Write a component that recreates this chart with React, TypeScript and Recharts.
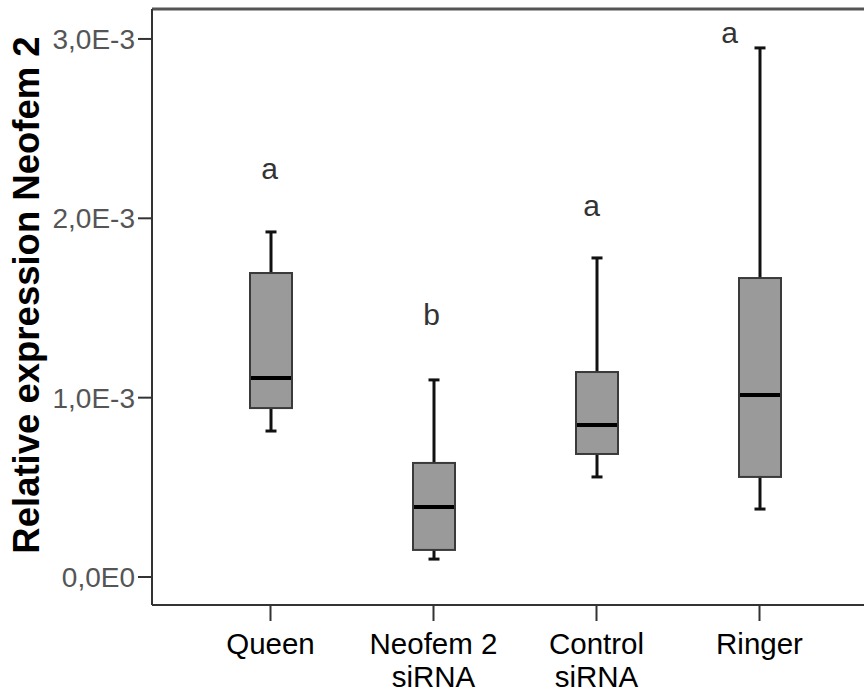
import React from 'react';
import { ComposedChart, Bar, XAxis, YAxis, Scatter, ReferenceLine } from 'recharts';

// ---- data ----
const categories = ['Queen', 'Neofem 2\nsiRNA', 'Control\nsiRNA', 'Ringer'];
const minValues = [0.000814, 0.0001, 0.000558, 0.000379];
const q1Values = [0.000942, 0.000151, 0.000686, 0.000558];
const medianValues = [0.00111, 0.00039, 0.000848, 0.001015];
const q3Values = [0.001695, 0.000636, 0.001143, 0.001667];
const maxValues = [0.001924, 0.001099, 0.001779, 0.00295];
const letters = ['a', 'b', 'a', 'a'];
const letterValues = [0.002219, 0.001405, 0.002013, 0.002978];
const yTicks = [0, 0.001, 0.002, 0.003];
const yTickLabels = ['0,0E0', '1,0E-3', '2,0E-3', '3,0E-3'];
const yTitle = 'Relative expression Neofem 2';

// ---- layout / style ----
const yDomain = [-0.000156, 0.003167];
const letterDx = [-1, -2, -5, -30];
const FONT = '"Liberation Sans", Arial, sans-serif';

const data = categories.map((name, i) => ({
  name,
  idx: i,
  box: [q1Values[i], q3Values[i]],
  min: minValues[i],
  q1: q1Values[i],
  median: medianValues[i],
  q3: q3Values[i],
  max: maxValues[i],
  letter: letters[i],
  letterY: letterValues[i],
}));

const BoxShape = (props: any) => {
  const { x, y, width, height, payload } = props;
  if (x == null || y == null || !payload) return null;
  const top = Math.min(y, y + height);
  const h = Math.abs(height);
  const k = h / (payload.q3 - payload.q1);
  const yv = (v: number) => top + (payload.q3 - v) * k;
  const cx = x + width / 2;
  const cap = 5.5;
  return (
    <g>
      <line x1={cx} x2={cx} y1={yv(payload.max)} y2={top} stroke="#111" strokeWidth={3} />
      <line x1={cx} x2={cx} y1={top + h} y2={yv(payload.min)} stroke="#111" strokeWidth={3} />
      <line x1={cx - cap} x2={cx + cap} y1={yv(payload.max)} y2={yv(payload.max)} stroke="#111" strokeWidth={3} />
      <line x1={cx - cap} x2={cx + cap} y1={yv(payload.min)} y2={yv(payload.min)} stroke="#111" strokeWidth={3} />
      <rect x={x} y={top} width={width} height={h} fill="#9a9a9a" stroke="#3a3a3a" strokeWidth={2} />
      <line x1={x + 1} x2={x + width - 1} y1={yv(payload.median)} y2={yv(payload.median)} stroke="#000" strokeWidth={4} />
    </g>
  );
};

const LetterShape = (props: any) => {
  const { cx, cy, payload } = props;
  if (cx == null || cy == null) return null;
  return (
    <text x={cx + letterDx[payload.idx]} y={cy} textAnchor="middle" fontFamily={FONT} fontSize={30} fill="#333">
      {payload.letter}
    </text>
  );
};

const XTick = (props: any) => {
  const { x, y, payload } = props;
  const lines = String(payload.value).split('\n');
  return (
    <text x={x} y={y + 31} textAnchor="middle" fontFamily={FONT} fontSize={29.5} fill="#000">
      {lines.map((l, i) => (
        <tspan key={i} x={x} dy={i === 0 ? 0 : 33}>
          {l}
        </tspan>
      ))}
    </text>
  );
};

const YTick = (props: any) => {
  const { x, y, payload, index } = props;
  const i = yTicks.indexOf(payload.value);
  return (
    <text x={x - 1} y={y + 10} textAnchor="end" fontFamily={FONT} fontSize={28} fill="#555">
      {yTickLabels[i >= 0 ? i : index]}
    </text>
  );
};

const YTitle = (props: any) => {
  const vb = props.viewBox || { x: 0, y: 9, width: 152, height: 596 };
  const tx = vb.x + 39;
  const ty = vb.y + vb.height / 2 - 12;
  return (
    <text x={tx} y={ty} transform={`rotate(-90, ${tx}, ${ty})`} textAnchor="middle" fontFamily={FONT} fontWeight="bold" fontSize={36.5} fill="#000">
      {yTitle}
    </text>
  );
};

export default function App() {
  return (
    <div style={{ position: 'absolute', left: 0, top: 0, width: 864, height: 692, background: '#fff' }}>
      <ComposedChart width={864} height={692} data={data} margin={{ top: 9, right: 0, bottom: 0, left: 0 }}>
        <XAxis
          dataKey="name"
          type="category"
          height={87}
          padding={{ left: 37, right: 23 }}
          tick={<XTick />}
          tickSize={16}
          tickLine={{ stroke: '#333', strokeWidth: 2 }}
          axisLine={{ stroke: '#333', strokeWidth: 2 }}
          interval={0}
        />
        <YAxis
          type="number"
          domain={yDomain}
          ticks={yTicks}
          width={152}
          tick={<YTick />}
          tickSize={14}
          tickLine={{ stroke: '#333', strokeWidth: 2 }}
          axisLine={{ stroke: '#333', strokeWidth: 2 }}
          allowDataOverflow
          label={{ content: <YTitle /> }}
        />
        <ReferenceLine y={yDomain[1]} stroke="#555" strokeWidth={3} ifOverflow="visible" />
        <Bar dataKey="box" barSize={42} shape={<BoxShape />} isAnimationActive={false} />
        <Scatter dataKey="letterY" shape={<LetterShape />} isAnimationActive={false} />
      </ComposedChart>
    </div>
  );
}
